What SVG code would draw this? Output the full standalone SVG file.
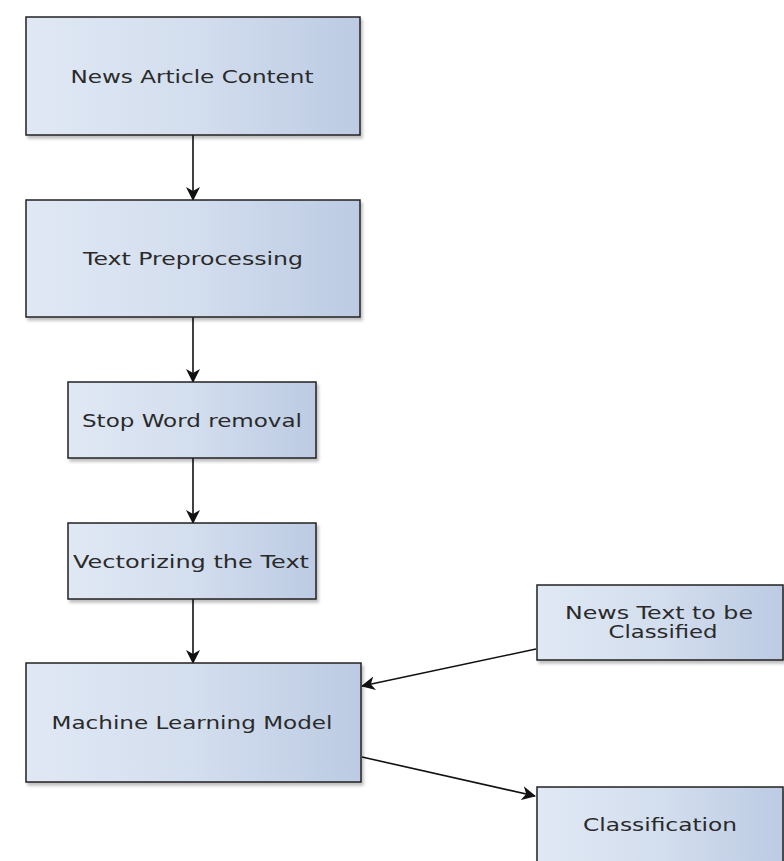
<svg xmlns="http://www.w3.org/2000/svg" width="784" height="861" viewBox="0 0 784 861">
<defs>
<linearGradient id="g" x1="0" y1="0" x2="1" y2="0">
<stop offset="0" stop-color="#e0e8f4"/>
<stop offset="0.5" stop-color="#d3deee"/>
<stop offset="1" stop-color="#bccbe3"/>
</linearGradient>
<filter id="sh" x="-5%" y="-5%" width="115%" height="120%">
<feDropShadow dx="2" dy="3" stdDeviation="1.5" flood-color="#000" flood-opacity="0.25"/>
</filter>
<marker id="ah" viewBox="0 0 14 14" refX="13" refY="7" markerWidth="14" markerHeight="14" markerUnits="userSpaceOnUse" orient="auto">
<path d="M0,0 L14,7 L0,14 L4,7 Z" fill="#111"/>
</marker>
<style>
.box{fill:url(#g);stroke:#222;stroke-width:1.5;filter:url(#sh)}
.t{font-family:"DejaVu Sans",Verdana,sans-serif;font-size:17px;fill:#2a2a2a;text-anchor:middle}
.c{stroke:#111;stroke-width:1.6;fill:none;marker-end:url(#ah)}
</style>
</defs>
<rect width="784" height="861" fill="#fff"/>
<g id="connectors">
<line class="c" x1="193" y1="135" x2="193" y2="200"/>
<line class="c" x1="193" y1="317" x2="193" y2="382"/>
<line class="c" x1="193" y1="458" x2="193" y2="523"/>
<line class="c" x1="193" y1="599" x2="193" y2="663"/>
<line class="c" x1="536" y1="649" x2="362" y2="686"/>
<line class="c" x1="362" y1="757" x2="535" y2="796"/>
</g>
<g id="news-article">
<rect class="box" x="26" y="17" width="334" height="118"/>
<text class="t" x="192" y="83" textLength="243" lengthAdjust="spacingAndGlyphs">News Article Content</text>
</g>
<g id="text-preprocessing">
<rect class="box" x="26" y="200" width="334" height="117"/>
<text class="t" x="193" y="265" textLength="220" lengthAdjust="spacingAndGlyphs">Text Preprocessing</text>
</g>
<g id="stop-word">
<rect class="box" x="68" y="382" width="248" height="76"/>
<text class="t" x="192" y="427" textLength="220" lengthAdjust="spacingAndGlyphs">Stop Word removal</text>
</g>
<g id="vectorizing">
<rect class="box" x="68" y="523" width="248" height="76"/>
<text class="t" x="191" y="568" textLength="236" lengthAdjust="spacingAndGlyphs">Vectorizing the Text</text>
</g>
<g id="ml-model">
<rect class="box" x="26" y="663" width="335" height="119"/>
<text class="t" x="192" y="729" textLength="281" lengthAdjust="spacingAndGlyphs">Machine Learning Model</text>
</g>
<g id="news-text">
<rect class="box" x="537" y="585" width="246" height="75"/>
<text class="t" x="659" y="619" textLength="188" lengthAdjust="spacingAndGlyphs">News Text to be</text>
<text class="t" x="663" y="638" textLength="109" lengthAdjust="spacingAndGlyphs">Classified</text>
</g>
<g id="classification">
<rect class="box" x="537" y="787" width="246" height="80"/>
<text class="t" x="660" y="831" textLength="154" lengthAdjust="spacingAndGlyphs">Classification</text>
</g>
</svg>
